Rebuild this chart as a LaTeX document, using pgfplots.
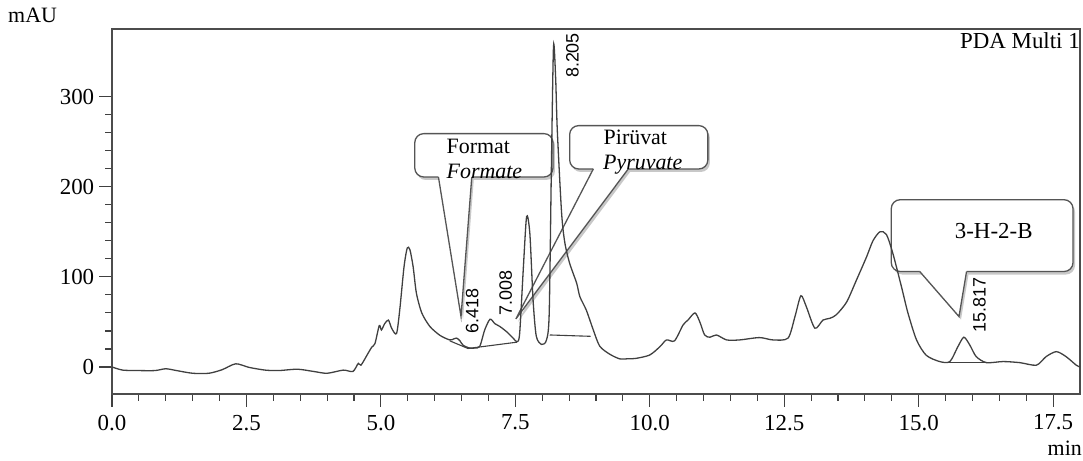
\documentclass[border=0pt]{standalone}
\usepackage{pgfplots}
\pgfplotsset{compat=1.18}
\usepackage{fontspec}
\setmainfont{Liberation Serif}
\newfontfamily\lsans{Liberation Sans}
\definecolor{trace}{HTML}{404040}
\definecolor{boxline}{HTML}{555555}
\definecolor{shadow}{HTML}{C8C8C8}

% chromatogram trace (min, mAU)
\pgfplotstableread{
t     a
0.00  0
0.20  -3.5
0.50  -4
0.80  -4
1.00  -2
1.20  -4
1.50  -7
1.80  -7
2.05  -3
2.30  3.5
2.55  -0.5
2.85  -3.5
3.10  -4
3.45  -2.5
3.75  -5
4.00  -7
4.30  -3.5
4.48  -5
4.58  4
4.63  2
4.76  15
4.83  22
4.89  26
4.97  46
5.01  41
5.07  48
5.14  52
5.20  43
5.29  37
5.35  63
5.43  111
5.49  132
5.54  130
5.60  111
5.66  82
5.76  60
5.91  45
6.10  35
6.28  30
6.35  31
6.41  32
6.47  29
6.53  24
6.65  21
6.75  21
6.84  23
6.93  41
7.03  53
7.12  48
7.21  45
7.34  39
7.46  32
7.53  28
7.58  37
7.65  111
7.71  167
7.77  148
7.83  74
7.89  34
7.99  25
8.08  30
8.13  60
8.17  220
8.21  356
8.25  320
8.28  263
8.36  171
8.42  138
8.51  115
8.64  93
8.70  78
8.82  63
8.95  41
9.07  23
9.26  14
9.44  9
9.57  9
9.75  9.6
10.00 13.3
10.19 22.6
10.31 30
10.46 29
10.62 46.7
10.71 52
10.84 60
10.93 50
11.02 35.5
11.12 33
11.24 35.5
11.43 30
11.67 30
12.04 32.6
12.29 30
12.57 32
12.70 56
12.81 79
12.91 67
13.07 43
13.22 52
13.35 54
13.47 58
13.66 72
13.84 96
14.03 122
14.15 140
14.28 150
14.40 147
14.52 126
14.68 89
14.80 60
14.96 30
15.14 13
15.39 6
15.58 6
15.73 22.6
15.84 33
15.95 24.4
16.07 11.5
16.26 4.8
16.57 6
16.88 4.8
17.19 2
17.37 11.5
17.56 17
17.74 11.5
17.93 2
18.00 0
}\trace

\begin{document}
\fontsize{23}{27}\selectfont
\begin{tikzpicture}
\useasboundingbox (0,0) rectangle (1083bp,461bp);
\begin{axis}[
  at={(112bp,67bp)}, anchor=south west,
  scale only axis, width=968bp, height=365bp,
  xmin=0, xmax=18, ymin=-30, ymax=375,
  clip=false,
  axis line style={draw=black!70, line width=1.5bp},
  xtick={0,2.5,...,17.5}, ytick={0,100,200,300},
  minor x tick num=4, minor y tick num=4,
  xtick pos=bottom, ytick pos=left, tick align=outside,
  major tick length=13bp, minor tick length=7bp,
  every tick/.style={black!75, line width=1.2bp},
  tick label style={font=\fontsize{23}{27}\selectfont},
  yticklabel style={xshift=3bp},
  /pgf/number format/assume math mode=true,
  xticklabel style={/pgf/number format/.cd, fixed, fixed zerofill, precision=1},
]
% callout boxes (drawn first, trace goes on top)
\fill[shadow, xshift=2bp, yshift=-3bp, rounded corners=9bp] (axis cs:5.63,210.8) rectangle (axis cs:8.20,258.9);
\fill[shadow, xshift=2bp, yshift=-3bp] (axis cs:6.07,211) -- (axis cs:6.49,55.9) -- (axis cs:6.69,211) -- cycle;
\draw[boxline, fill=white, line width=1.3bp, rounded corners=9bp] (axis cs:5.63,210.8) rectangle (axis cs:8.20,258.9);
\fill[white] (axis cs:6.07,213) -- (axis cs:6.07,210.8) -- (axis cs:6.49,55.9) -- (axis cs:6.69,210.8) -- (axis cs:6.69,213) -- cycle;
\draw[boxline, line width=1.3bp] (axis cs:6.07,210.8) -- (axis cs:6.49,55.9) -- (axis cs:6.69,210.8);

\fill[shadow, xshift=2bp, yshift=-3bp, rounded corners=9bp] (axis cs:8.51,219.7) rectangle (axis cs:11.08,267.8);
\fill[shadow, xshift=2bp, yshift=-3bp] (axis cs:8.95,220) -- (axis cs:7.51,53.3) -- (axis cs:9.60,220) -- cycle;
\draw[boxline, fill=white, line width=1.3bp, rounded corners=9bp] (axis cs:8.51,219.7) rectangle (axis cs:11.08,267.8);
\fill[white] (axis cs:8.95,222) -- (axis cs:8.95,219.7) -- (axis cs:7.51,53.3) -- (axis cs:9.60,219.7) -- (axis cs:9.60,222) -- cycle;
\draw[boxline, line width=1.3bp] (axis cs:8.95,219.7) -- (axis cs:7.51,53.3) -- (axis cs:9.60,219.7);

\fill[shadow, xshift=2bp, yshift=-3bp, rounded corners=9bp] (axis cs:14.49,105.9) rectangle (axis cs:17.87,185.6);
\fill[shadow, xshift=2bp, yshift=-3bp] (axis cs:15.02,106) -- (axis cs:15.75,55.9) -- (axis cs:15.89,106) -- cycle;
\draw[boxline, fill=white, line width=1.3bp, rounded corners=9bp] (axis cs:14.49,105.9) rectangle (axis cs:17.87,185.6);
\fill[white] (axis cs:15.02,108) -- (axis cs:15.02,105.9) -- (axis cs:15.75,55.9) -- (axis cs:15.89,105.9) -- (axis cs:15.89,108) -- cycle;
\draw[boxline, line width=1.3bp] (axis cs:15.02,105.9) -- (axis cs:15.75,55.9) -- (axis cs:15.89,105.9);

% trace and integration baselines
\addplot[trace, line width=1.3bp, smooth, tension=0.45] table[x=t, y=a] {\trace};
\addplot[trace, line width=1.1bp] coordinates {(6.28,29) (6.62,20.5) (7.53,27.5)};
\addplot[trace, line width=1.1bp] coordinates {(8.14,35.5) (8.90,34)};
\addplot[trace, line width=1.1bp] coordinates {(15.51,4.8) (16.26,4.8)};

% callout texts
\node[anchor=base west, inner sep=0pt, font=\fontsize{22}{26}\selectfont] at (axis cs:6.22,237.4) {Format};
\node[anchor=base west, inner sep=0pt, font=\fontsize{22}{26}\selectfont\itshape] at (axis cs:6.22,209.6) {Formate};
\node[anchor=base west, inner sep=0pt, font=\fontsize{22}{26}\selectfont] at (axis cs:9.14,246.7) {Pirüvat};
\node[anchor=base west, inner sep=0pt, font=\fontsize{22}{26}\selectfont\itshape] at (axis cs:9.13,218.9) {Pyruvate};
\node[anchor=base west, inner sep=0pt, font=\fontsize{23}{27}\selectfont] at (axis cs:15.67,143) {3-H-2-B};

% peak retention times
\node[rotate=90, inner sep=0pt, font=\lsans\fontsize{18}{20}\selectfont] at (axis cs:6.70,61.7) {6.418};
\node[rotate=90, inner sep=0pt, font=\lsans\fontsize{18}{20}\selectfont] at (axis cs:7.32,81.9) {7.008};
\node[rotate=90, inner sep=0pt, font=\lsans\fontsize{18}{20}\selectfont] at (axis cs:8.56,345.6) {8.205};
\node[rotate=90, inner sep=0pt, font=\lsans\fontsize{18}{20}\selectfont] at (axis cs:16.13,68.3) {15.817};

\node[anchor=north east, inner sep=0pt, font=\fontsize{23}{27}\selectfont] at (axis cs:18,371) {PDA Multi 1};
\end{axis}
\node[anchor=base west, inner sep=0pt, font=\fontsize{22}{26}\selectfont] at (8bp,438bp) {mAU};
\node[anchor=base east, inner sep=0pt, font=\fontsize{22}{26}\selectfont] at (1082bp,6bp) {min};
\end{tikzpicture}
\end{document}
